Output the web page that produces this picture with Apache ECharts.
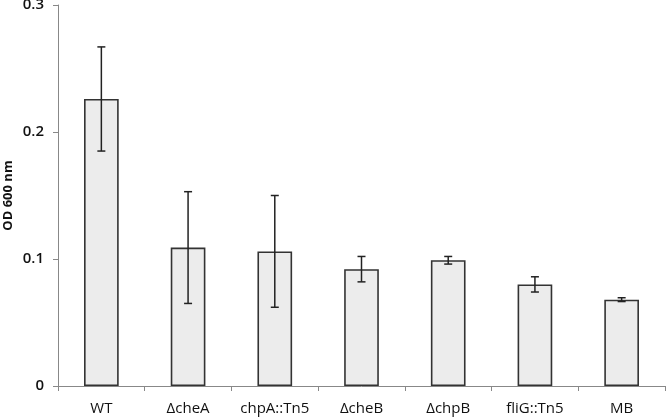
<!DOCTYPE html>
<html><head><meta charset="utf-8">
<script src="https://cdn.jsdelivr.net/npm/echarts@6/dist/echarts.min.js"></script>
<style>html,body{margin:0;padding:0;background:#fff}#c{width:666px;height:418px}</style>
</head><body><div id="c"></div>
<script>
const categories = ['WT', 'ΔcheA', 'chpA::Tn5', 'ΔcheB', 'ΔchpB', 'fliG::Tn5', 'MB'];
const values = [0.226, 0.109, 0.106, 0.092, 0.099, 0.080, 0.068];
const errors = [0.041, 0.044, 0.044, 0.010, 0.003, 0.006, 0.0015];
const yTicks = [0, 0.1, 0.2, 0.3];

const chart = echarts.init(document.getElementById('c'));
const errData = categories.map((c, i) => [i, values[i] - errors[i], values[i] + errors[i]]);
chart.setOption({
  animation: false,
  grid: { left: 58, right: 1, top: 5, bottom: 32, containLabel: false, outerBoundsMode: 'none' },
  xAxis: {
    type: 'category', data: categories,
    axisLine: { lineStyle: { color: '#888', width: 1 } },
    axisTick: { show: true, length: 5, lineStyle: { color: '#888' } },
    axisLabel: { color: '#111', fontSize: 15, fontFamily: 'Open Sans', margin: 15, interval: 0, hideOverlap: false }
  },
  yAxis: {
    type: 'value', min: 0, max: 0.3, interval: 0.1,
    name: 'OD 600 nm', nameLocation: 'middle', nameGap: 43, nameMoveOverlap: false,
    nameTextStyle: { fontWeight: 'bold', fontSize: 13, color: '#111', fontFamily: 'Open Sans' },
    axisLine: { show: true, lineStyle: { color: '#888', width: 1 } },
    axisTick: { show: true, length: 5, lineStyle: { color: '#888' } },
    splitLine: { show: false },
    axisLabel: { color: '#111', fontSize: 15, fontWeight: 600, fontFamily: 'Open Sans', margin: 14,
      formatter: v => { const t = yTicks.find(x => Math.abs(x - v) < 1e-9); return t === 0 ? '0' : String(t); } }
  },
  series: [
    { type: 'bar', data: values, barWidth: '40%',
      itemStyle: { color: '#ececec', borderColor: '#333', borderWidth: 1.6 } },
    { type: 'custom', data: errData, z: 5,
      renderItem: (params, api) => {
        const x = api.value(0);
        const lo = api.coord([x, api.value(1)]);
        const hi = api.coord([x, api.value(2)]);
        const cap = 4;
        const st = { stroke: '#222', lineWidth: 1.5 };
        return { type: 'group', children: [
          { type: 'line', shape: { x1: lo[0], y1: lo[1], x2: hi[0], y2: hi[1] }, style: st },
          { type: 'line', shape: { x1: hi[0] - cap, y1: hi[1], x2: hi[0] + cap, y2: hi[1] }, style: st },
          { type: 'line', shape: { x1: lo[0] - cap, y1: lo[1], x2: lo[0] + cap, y2: lo[1] }, style: st }
        ]};
      } }
  ]
});
</script></body></html>
